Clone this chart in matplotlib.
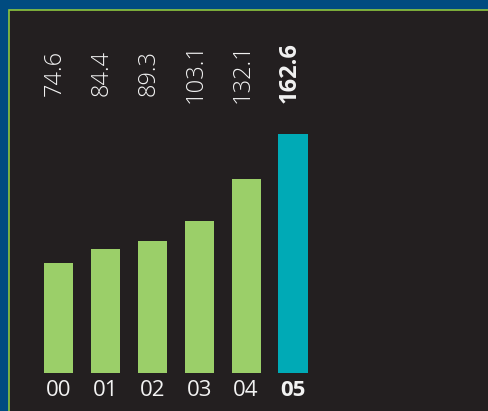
import matplotlib
matplotlib.use("Agg")
import matplotlib.pyplot as plt
from matplotlib.patches import Rectangle
from matplotlib.transforms import blended_transform_factory

# Data
periods = ["00", "01", "02", "03", "04", "05"]
values = [74.6, 84.4, 89.3, 103.1, 132.1, 162.6]
highlight = "05"

BG_BLUE = "#004b80"
PANEL = "#231f20"
BORDER = "#8dc63f"
GREEN = "#9bcf69"
TEAL = "#00aab6"
TEXT = "#f2f2f2"

plt.rcParams["font.family"] = ["Open Sans", "DejaVu Sans"]

W, H = 489, 411
fig = plt.figure(figsize=(W / 100, H / 100), dpi=100, facecolor=BG_BLUE)

# Dark panel with thin green border, kept behind the axes
panel = Rectangle((8.5 / W, -0.1), 1.2, (H - 10.5) / H + 0.1,
                  transform=fig.transFigure, facecolor=PANEL,
                  edgecolor=BORDER, linewidth=1.2, zorder=-5)
fig.add_artist(panel)

base_px = 38.3          # baseline height above figure bottom
top_px = H - 10         # panel top
px_per_unit = 1.47
ax = fig.add_axes([0, base_px / H, 1, (top_px - base_px) / H])
ax.set_zorder(1)
ax.patch.set_alpha(0)
for s in ax.spines.values():
    s.set_visible(False)

step = 46.9
x0 = 58.5
ax.set_xlim(-x0 / step, (W - x0) / step)
ax.set_ylim(0, (top_px - base_px) / px_per_unit)

xs = list(range(len(periods)))
colors = [TEAL if p == highlight else GREEN for p in periods]
ax.bar(xs, values, width=0.62, color=colors, zorder=2)

trans = blended_transform_factory(ax.transData, ax.transAxes)
label_y = (H - 73 - base_px) / (top_px - base_px)
for x, v, p in zip(xs, values, periods):
    ax.text(x - 0.08, label_y, f"{v:.1f}", rotation=90, ha="center", va="center",
            transform=trans, color=TEXT, fontsize=17,
            fontweight="bold" if p == highlight else "light")

ax.set_yticks([])
ax.set_xticks(xs)
ax.set_xticklabels(periods, fontsize=16, color=TEXT)
ax.tick_params(axis="x", length=0, pad=5)
for lbl, p in zip(ax.get_xticklabels(), periods):
    lbl.set_fontweight("bold" if p == highlight else "normal")

fig.savefig("out.png", dpi=100, facecolor=BG_BLUE)
